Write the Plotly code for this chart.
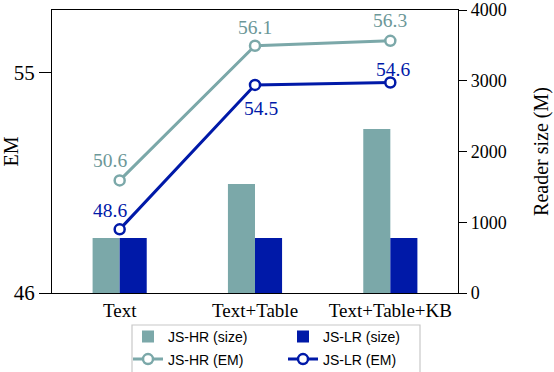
import plotly.graph_objects as go

categories = ["Text", "Text+Table", "Text+Table+KB"]
hr_size = [777, 1540, 2318]
lr_size = [777, 777, 777]
hr_em = [50.6, 56.1, 56.3]
lr_em = [48.6, 54.5, 54.6]
hr_em_labels = ["50.6", "56.1", "56.3"]
lr_em_labels = ["48.6", "54.5", "54.6"]

HR = "#7BA8A9"
LR = "#0019A8"
HR_TXT = "#6C9798"
serif = "Liberation Serif"
sans = "Liberation Sans"

fig = go.Figure()
fig.add_trace(go.Bar(x=categories, y=hr_size, name="JS-HR (size)", marker_color=HR,
                     yaxis="y", legend="legend", marker_line_width=0))
fig.add_trace(go.Bar(x=categories, y=lr_size, name="JS-LR (size)", marker_color=LR,
                     yaxis="y", legend="legend", marker_line_width=0))
fig.add_trace(go.Scatter(x=categories, y=hr_em, name="JS-HR (EM)", mode="lines+markers",
                         line=dict(color=HR, width=3),
                         marker=dict(symbol="circle", size=10, color="white", line=dict(color=HR, width=2.5)),
                         yaxis="y2", legend="legend2", cliponaxis=False))
fig.add_trace(go.Scatter(x=categories, y=lr_em, name="JS-LR (EM)", mode="lines+markers",
                         line=dict(color=LR, width=3),
                         marker=dict(symbol="circle", size=10, color="white", line=dict(color=LR, width=2.5)),
                         yaxis="y2", legend="legend2", cliponaxis=False))

# value labels placed at data coordinates (offsets are styling only)
hr_shift = [(-10, 20), (0, 18), (0, 20)]
lr_shift = [(-10, 19), (6, -24), (3, 13)]
for cat, val, lab, (dx, dy) in zip(categories, hr_em, hr_em_labels, hr_shift):
    fig.add_annotation(x=cat, y=val, xref="x", yref="y2", text=lab, showarrow=False,
                       xshift=dx, yshift=dy, font=dict(family=serif, size=19.5, color=HR_TXT))
for cat, val, lab, (dx, dy) in zip(categories, lr_em, lr_em_labels, lr_shift):
    fig.add_annotation(x=cat, y=val, xref="x", yref="y2", text=lab, showarrow=False,
                       xshift=dx, yshift=dy, font=dict(family=serif, size=19.5, color=LR))

LEG_X = (128 - 52) / 406

fig.update_layout(
    width=554, height=372,
    margin=dict(l=52, r=96, t=10, b=79, autoexpand=False),
    plot_bgcolor="white", paper_bgcolor="white",
    barmode="group", bargap=0.6, bargroupgap=0,
    font=dict(family=serif, size=17, color="black"),
    xaxis=dict(type="category", range=[-0.5, 2.5], showline=True, linecolor="black", linewidth=1.2,
               mirror=True, ticks="", showgrid=False, automargin=False,
               tickfont=dict(family=serif, size=19)),
    yaxis=dict(side="right", range=[0, 4000], tickvals=[0, 1000, 2000, 3000, 4000],
               showline=True, linecolor="black", linewidth=1.2, ticks="outside", ticklen=8,
               tickcolor="black", showgrid=False, zeroline=False, automargin=False,
               title=dict(text="Reader size (M)", font=dict(family=serif, size=20), standoff=28),
               tickfont=dict(family=serif, size=18)),
    yaxis2=dict(side="left", overlaying="y", range=[46, 57.56], tickvals=[46, 55],
                showline=True, linecolor="black", linewidth=1.2, ticks="outside", ticklen=12,
                tickcolor="black", showgrid=False, zeroline=False, automargin=False,
                title=dict(text="EM", font=dict(family=serif, size=20), standoff=2),
                tickfont=dict(family=serif, size=21)),
    legend=dict(orientation="h", x=LEG_X, xanchor="left", y=-0.155, yanchor="middle",
                entrywidth=110, entrywidthmode="pixels",
                font=dict(family=sans, size=14), bgcolor="rgba(0,0,0,0)", itemwidth=30),
    legend2=dict(orientation="h", x=LEG_X, xanchor="left", y=-0.235, yanchor="middle",
                 entrywidth=110, entrywidthmode="pixels",
                 font=dict(family=sans, size=14), bgcolor="rgba(0,0,0,0)", itemwidth=30),
    shapes=[dict(type="rect", xref="paper", yref="paper",
                 x0=(132 - 52) / 406, x1=(420 - 52) / 406, y0=(293 - 325) / 283, y1=-0.3,
                 line=dict(color="#C8C8C8", width=1.2), fillcolor="rgba(0,0,0,0)", layer="below")],
)

fig.write_html("out.html", config={"displayModeBar": False},
               post_script="document.body.style.margin='0';document.body.style.padding='0';")
